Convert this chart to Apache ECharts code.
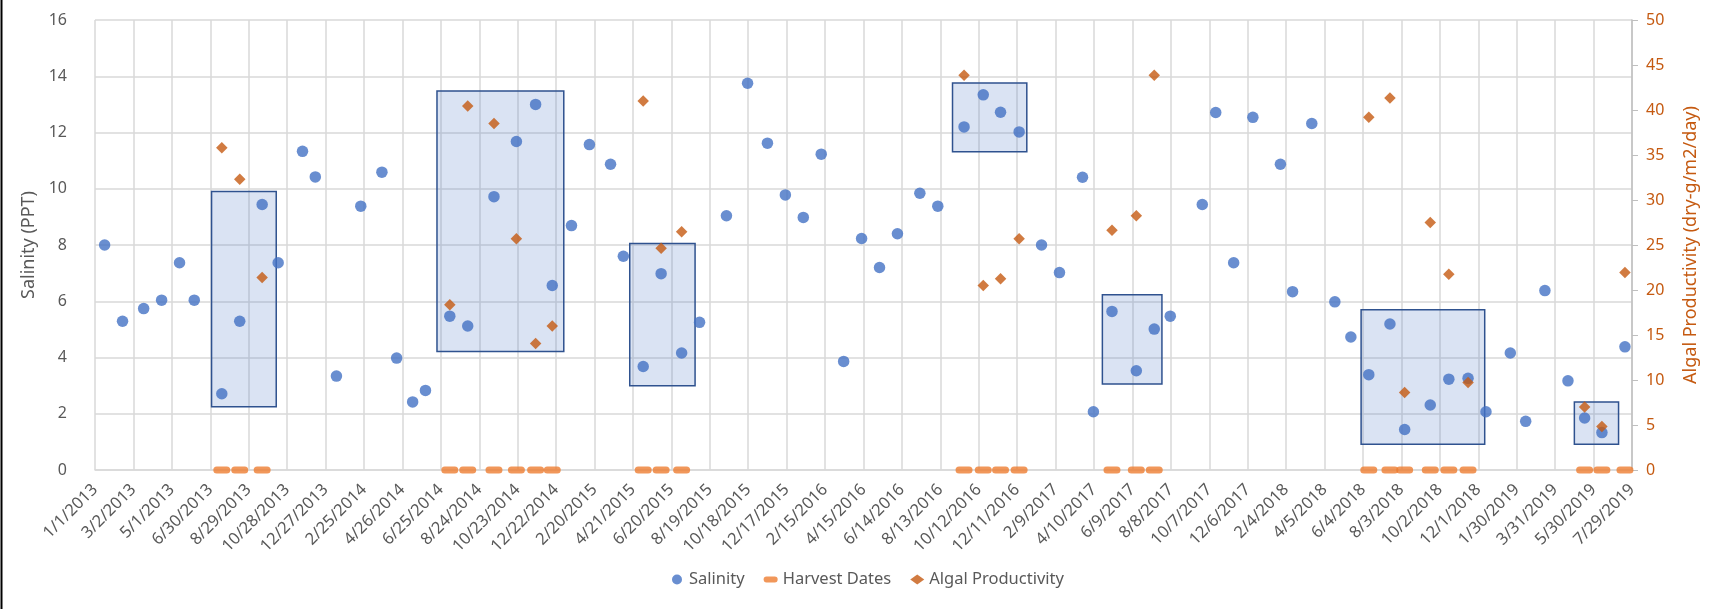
<!DOCTYPE html>
<html>
<head>
<meta charset="utf-8">
<script src="https://cdn.jsdelivr.net/npm/echarts@6/dist/echarts.min.js"></script>
<style>
html,body{margin:0;padding:0;background:#fff;}
#chart{width:1711px;height:609px;}
</style>
</head>
<body>
<div id="chart"></div>
<script>
// x values are days since 1/1/2013
const salinityDays = [15,43,76,104,132,155,198,226,261,286,324,344,377,415,448,471,496,516,554,582,623,658,688,714,744,772,805,825,856,884,916,944,986,1019,1050,1078,1106,1134,1169,1197,1225,1253,1288,1316,1357,1387,1414,1443,1478,1506,1542,1559,1588,1626,1654,1679,1729,1750,1778,1808,1851,1870,1900,1936,1961,1989,2022,2045,2085,2114,2144,2172,2210,2234,2264,2300,2326,2353,2389];
const salinityValues = [8.0,5.29,5.74,6.04,7.37,6.04,2.71,5.29,9.44,7.37,11.33,10.42,3.34,9.38,10.59,3.98,2.42,2.83,5.47,5.12,9.72,11.68,13.0,6.56,8.69,11.57,10.87,7.6,3.68,6.98,4.16,5.25,9.04,13.75,11.62,9.78,8.98,11.23,3.86,8.23,7.2,8.4,9.84,9.38,12.2,13.34,12.72,12.02,8.0,7.02,10.41,2.07,5.64,3.53,5.01,5.47,9.44,12.71,7.37,12.54,10.87,6.34,12.32,5.98,4.73,3.39,5.19,1.44,2.31,3.23,3.26,2.07,4.16,1.73,6.38,3.17,1.85,1.33,4.38];
const harvestDays = [198,226,261,554,582,623,658,688,714,856,884,916,1357,1387,1414,1443,1588,1626,1654,1989,2022,2045,2085,2114,2144,2326,2353,2389];
const productivityValues = [35.8,32.3,21.4,18.35,40.45,38.5,25.7,14.06,16.0,41.0,24.65,26.46,43.86,20.5,21.24,25.7,26.65,28.24,43.86,39.2,41.34,8.62,27.5,21.76,9.73,7.0,4.84,21.94];
// highlight boxes: [startDay, endDay, lowSalinity, highSalinity]
const boxStart = [182,534,835,1339,1573,1977,2310];
const boxEnd   = [283,732,937,1455,1666,2170,2379];
const boxLow   = [2.25,4.21,3.0,11.32,3.06,0.92,0.92];
const boxHigh  = [9.9,13.48,8.05,13.76,6.23,5.7,2.42];
const xMin = 0, xMax = 2400, xStep = 60;
const leftMax = 16, leftStep = 2, rightMax = 50, rightStep = 5;

const FONT = "'Noto Sans', sans-serif";
const GRAY = '#595959';
const dash = 'path://M3.5,0H13.5A3.5,3.5,0,0,1,13.5,7H3.5A3.5,3.5,0,0,1,3.5,0Z';

function dayLabel(v){
  const d = new Date(Date.UTC(2013,0,1) + v*86400000);
  return (d.getUTCMonth()+1) + '/' + d.getUTCDate() + '/' + d.getUTCFullYear();
}

const chart = echarts.init(document.getElementById('chart'), null, {renderer:'canvas'});
chart.setOption({
  animation:false,
  textStyle:{fontFamily:FONT},
  grid:{left:95,right:79,top:20,bottom:139,containLabel:false},
  graphic:[{type:'line',shape:{x1:1.5,y1:0,x2:1.5,y2:609},style:{stroke:'#000',lineWidth:2}}],
  legend:{
    bottom:16,left:667,itemGap:19,itemWidth:14,itemHeight:10,
    textStyle:{color:GRAY,fontSize:16.5,fontFamily:FONT},
    data:[
      {name:'Salinity',icon:'circle'},
      {name:'Harvest Dates',icon:dash},
      {name:'Algal Productivity',icon:'diamond'}
    ]
  },
  xAxis:{
    type:'value',min:xMin,max:xMax,interval:xStep,
    axisLine:{show:true,lineStyle:{color:'#d9d9d9',width:1.5}},
    axisTick:{show:false},
    splitLine:{show:true,lineStyle:{color:'#d9d9d9',width:1.5}},
    axisLabel:{rotate:45,margin:17,color:GRAY,fontSize:16.5,fontFamily:FONT,formatter:dayLabel}
  },
  yAxis:[
    {type:'value',min:0,max:leftMax,interval:leftStep,position:'left',
     name:'Salinity (PPT)',nameLocation:'middle',nameGap:43,
     nameTextStyle:{color:GRAY,fontSize:18,fontFamily:FONT},
     axisLine:{show:false},axisTick:{show:false},
     splitLine:{show:true,lineStyle:{color:'#d9d9d9',width:1.5}},
     axisLabel:{color:GRAY,fontSize:16,margin:28,fontFamily:FONT}},
    {type:'value',min:0,max:rightMax,interval:rightStep,position:'right',
     name:'Algal Productivity (dry-g/m2/day)',nameLocation:'middle',nameGap:50,
     nameTextStyle:{color:'#c55a11',fontSize:18,fontFamily:FONT},
     axisLine:{show:true,lineStyle:{color:'#bfbfbf',width:1.5}},
     axisTick:{show:true,inside:false,length:6,lineStyle:{color:'#bfbfbf'}},
     splitLine:{show:false},
     axisLabel:{color:'#c55a11',fontSize:16,margin:14,fontFamily:FONT}}
  ],
  series:[
    {name:'Salinity',type:'scatter',yAxisIndex:0,symbol:'circle',symbolSize:11.5,
     itemStyle:{color:'#4472c4'},
     data:salinityDays.map((d,i)=>[d,salinityValues[i]]),z:3},
    {name:'Harvest Dates',type:'scatter',yAxisIndex:0,symbol:dash,symbolSize:[17,7],
     itemStyle:{color:'#ed7d31'},clip:false,
     data:harvestDays.map(d=>[d,0]),z:3},
    {name:'Algal Productivity',type:'scatter',yAxisIndex:1,symbol:'diamond',symbolSize:11.5,
     itemStyle:{color:'#c55a11'},
     data:harvestDays.map((d,i)=>[d,productivityValues[i]]),z:3},
    {name:'boxes',type:'scatter',yAxisIndex:0,data:[],z:5,silent:true,
     markArea:{silent:true,
       itemStyle:{color:'rgba(68,114,196,0.2)',borderColor:'#2f528f',borderWidth:1.5},
       data:boxStart.map((s,i)=>[{coord:[s,boxLow[i]]},{coord:[boxEnd[i],boxHigh[i]]}])}}
  ]
});
</script>
</body>
</html>
